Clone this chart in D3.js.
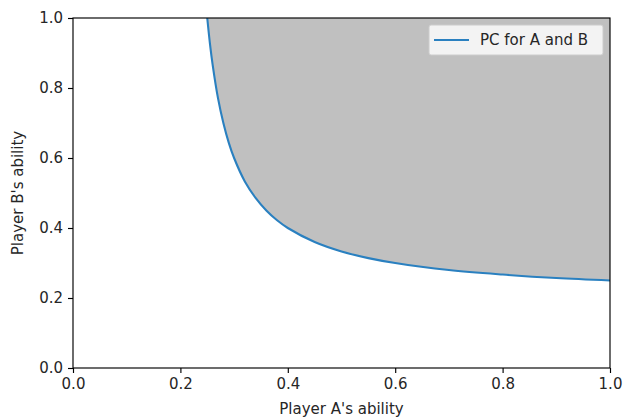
<!DOCTYPE html>
<html>
<head>
<meta charset="utf-8">
<script src="https://cdn.jsdelivr.net/npm/d3@7"></script>
<style>
  html, body { margin: 0; padding: 0; background: #fff; }
  svg { display: block; font-family: "DejaVu Sans", sans-serif; }
</style>
</head>
<body>
<svg id="chart" width="623" height="418"></svg>
<script>
// Boundary of the region where both players qualify (A's ability, B's ability)
const abilityA = [0.25, 0.255, 0.26, 0.27, 0.28, 0.29, 0.30, 0.32, 0.34, 0.36, 0.38, 0.40, 0.45, 0.50, 0.55, 0.60, 0.70, 0.80, 0.90, 1.00];
const abilityB = [1.00, 0.927, 0.867, 0.771, 0.700, 0.644, 0.600, 0.533, 0.486, 0.450, 0.422, 0.400, 0.360, 0.333, 0.314, 0.300, 0.280, 0.267, 0.257, 0.250];
const xTicks = [0.0, 0.2, 0.4, 0.6, 0.8, 1.0];
const yTicks = [0.0, 0.2, 0.4, 0.6, 0.8, 1.0];
const seriesLabel = "PC for A and B";
const xLabel = "Player A's ability";
const yLabel = "Player B's ability";

const FS = 15;
const svg = d3.select("#chart");
const margin = { left: 73, right: 13, top: 18, bottom: 50 };
const W = 623, H = 418;
const x = d3.scaleLinear().domain([0, 1]).range([margin.left, W - margin.right]);
const y = d3.scaleLinear().domain([0, 1]).range([H - margin.bottom, margin.top]);

const pts = abilityA.map((a, i) => ({ a, b: abilityB[i] }));

// shaded region above the curve
const area = d3.area()
  .x(d => x(d.a))
  .y0(y(1))
  .y1(d => y(d.b))
  .curve(d3.curveCatmullRom);
svg.append("path").datum(pts)
  .attr("d", area)
  .attr("fill", "#c0c0c0");

const line = d3.line()
  .x(d => x(d.a))
  .y(d => y(d.b))
  .curve(d3.curveCatmullRom);
svg.append("path").datum(pts)
  .attr("d", line)
  .attr("fill", "none")
  .attr("stroke", "#2a80c0")
  .attr("stroke-width", 2.1);

// axes
const fmt = d3.format(".1f");
const xAxis = svg.append("g")
  .attr("transform", `translate(0,${y(0)})`)
  .call(d3.axisBottom(x).tickValues(xTicks).tickFormat(fmt).tickSize(5).tickPadding(5));
const yAxis = svg.append("g")
  .attr("transform", `translate(${x(0)},0)`)
  .call(d3.axisLeft(y).tickValues(yTicks).tickFormat(fmt).tickSize(5).tickPadding(5));
[xAxis, yAxis].forEach(g => {
  g.select(".domain").remove();
  g.selectAll("line").attr("stroke", "#000").attr("stroke-width", 1.15);
  g.selectAll("text").attr("font-size", FS).attr("fill", "#262626")
    .attr("font-family", "DejaVu Sans, sans-serif");
});

// frame
svg.append("rect")
  .attr("x", x(0)).attr("y", y(1))
  .attr("width", x(1) - x(0)).attr("height", y(0) - y(1))
  .attr("fill", "none").attr("stroke", "#000").attr("stroke-width", 1.15);

// axis labels
svg.append("text")
  .attr("x", (x(0) + x(1)) / 2).attr("y", 414)
  .attr("text-anchor", "middle").attr("font-size", FS).attr("fill", "#262626")
  .text(xLabel);
svg.append("text")
  .attr("transform", `translate(23,${(y(0) + y(1)) / 2}) rotate(-90)`)
  .attr("text-anchor", "middle").attr("font-size", FS).attr("fill", "#262626")
  .text(yLabel);

// legend
const lg = svg.append("g").attr("transform", "translate(429,25)");
lg.append("rect")
  .attr("width", 174).attr("height", 30).attr("rx", 2)
  .attr("fill", "#fff").attr("fill-opacity", 0.8)
  .attr("stroke", "#ccc").attr("stroke-width", 1);
lg.append("line")
  .attr("x1", 5).attr("x2", 40).attr("y1", 15).attr("y2", 15)
  .attr("stroke", "#2a80c0").attr("stroke-width", 2.1);
lg.append("text")
  .attr("x", 51).attr("y", 20)
  .attr("font-size", FS).attr("fill", "#262626")
  .text(seriesLabel);
</script>
</body>
</html>
